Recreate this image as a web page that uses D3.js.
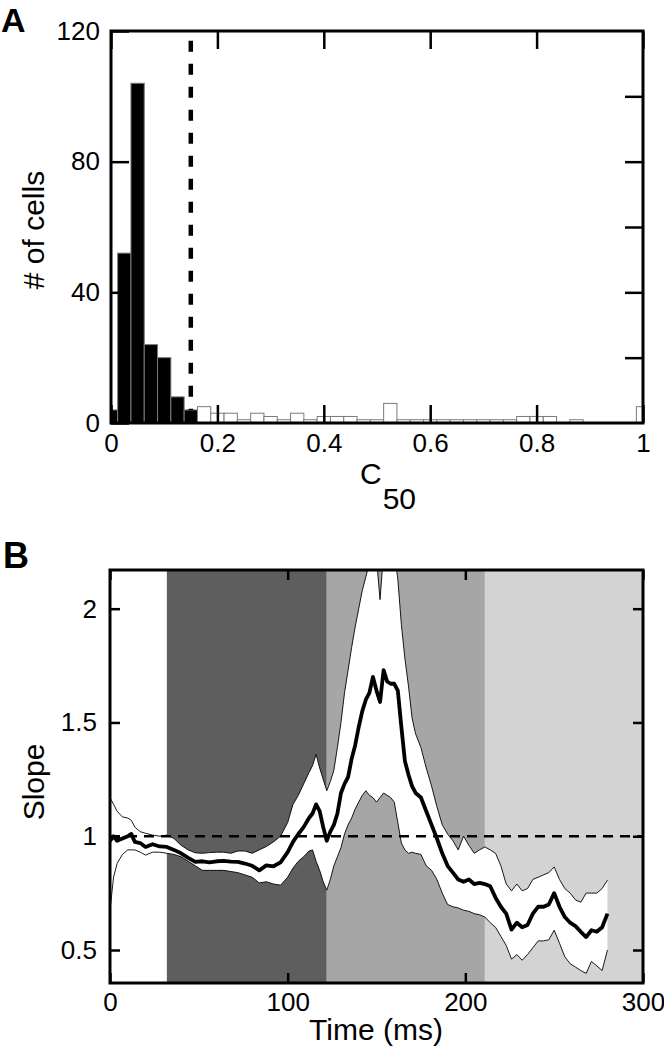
<!DOCTYPE html>
<html>
<head>
<meta charset="utf-8">
<script src="https://cdn.jsdelivr.net/npm/d3@7"></script>
<style>
  body { margin: 0; background: #fff; }
  svg { display: block; font-family: "Liberation Sans", Arial, sans-serif; }
</style>
</head>
<body>
<script>
// ---- panel A data: C50 histogram ----
var binCenters = [0, 0.025, 0.05, 0.075, 0.1, 0.125, 0.15, 0.175, 0.2, 0.225,
  0.25, 0.275, 0.3, 0.325, 0.35, 0.375, 0.4, 0.425, 0.45, 0.475,
  0.5, 0.525, 0.55, 0.575, 0.6, 0.625, 0.65, 0.675, 0.7, 0.725,
  0.75, 0.775, 0.8, 0.825, 0.85, 0.875, 0.9, 0.925, 0.95, 0.975, 1];
var cellCounts = [4, 52, 104, 24, 20, 8, 4, 5, 3, 3,
  1, 3, 2, 1, 3, 1, 2, 2, 2, 1,
  1, 6, 1, 1, 1, 1, 1, 1, 1, 1,
  1, 2, 2, 2, 0, 1, 0, 0, 0, 0, 5];
var binWidth = 0.025;
var c50Cutoff = 0.15;
var xTicksA = [0, 0.2, 0.4, 0.6, 0.8, 1];
var yTicksA = [0, 40, 80, 120];
var yTicksARight = [20, 40, 60, 80, 100];

// ---- panel B data: slope over time ----
var times = [0, 2, 4, 7, 10, 12, 14, 17, 20, 24, 28, 32, 36, 40, 44, 48, 52, 56, 60, 64,
  68, 72, 76, 80, 84, 88, 92, 96, 100, 103, 106, 109, 112, 114, 116, 118, 120, 122, 124, 126,
  128, 130, 132, 134, 136, 138, 140, 142, 144, 146, 148, 150, 152, 154, 156, 158, 160, 162, 164, 166,
  168, 170, 172, 175, 178, 181, 184, 187, 190, 193, 196, 199, 202, 205, 208, 211, 214, 217, 220, 223,
  226, 229, 232, 235, 238, 241, 244, 247, 250, 253, 256, 259, 262, 265, 268, 271, 274, 277, 280];
var meanSlope = [0.98, 1.0, 0.98, 0.99, 1.0, 1.01, 0.975, 0.97, 0.953, 0.965, 0.955, 0.953, 0.94, 0.925, 0.905, 0.887, 0.89, 0.885, 0.89, 0.892,
  0.888, 0.887, 0.88, 0.87, 0.85, 0.872, 0.868, 0.885, 0.93, 0.975, 1.01, 1.04, 1.08, 1.10, 1.14, 1.11, 1.04, 0.98, 1.02, 1.05,
  1.10, 1.19, 1.23, 1.26, 1.34, 1.40, 1.48, 1.55, 1.60, 1.63, 1.70, 1.64, 1.59, 1.73, 1.68, 1.67, 1.67, 1.64, 1.48, 1.33,
  1.27, 1.22, 1.19, 1.17, 1.11, 1.05, 0.99, 0.925, 0.87, 0.84, 0.81, 0.80, 0.81, 0.79, 0.795, 0.79, 0.78, 0.73, 0.69, 0.66,
  0.59, 0.62, 0.60, 0.61, 0.66, 0.69, 0.69, 0.70, 0.75, 0.69, 0.645, 0.62, 0.605, 0.58, 0.557, 0.587, 0.58, 0.60, 0.66];
var upperCI = [1.17, 1.14, 1.11, 1.085, 1.08, 1.07, 1.04, 1.02, 1.013, 1.005, 1.0, 1.005, 0.99, 0.96, 0.94, 0.927, 0.925, 0.928, 0.93, 0.93,
  0.925, 0.935, 0.935, 0.925, 0.94, 0.955, 0.975, 1.0, 1.06, 1.14, 1.18, 1.23, 1.28, 1.31, 1.36, 1.30, 1.25, 1.20, 1.24, 1.29,
  1.39, 1.50, 1.63, 1.73, 1.83, 1.92, 2.0, 2.08, 2.14, 2.20, 2.25, 2.22, 2.04, 2.25, 2.25, 2.2, 2.25, 2.13, 1.93, 1.78,
  1.66, 1.52, 1.45, 1.39, 1.30, 1.22, 1.13, 1.05, 1.01, 0.98, 0.94, 1.0, 0.96, 0.925, 0.94, 0.953, 0.94, 0.925, 0.87, 0.79,
  0.76, 0.79, 0.76, 0.77, 0.81, 0.82, 0.83, 0.84, 0.865, 0.81, 0.77, 0.75, 0.72, 0.71, 0.75, 0.75, 0.75, 0.77, 0.807];
var lowerCI = [0.675, 0.82, 0.88, 0.92, 0.94, 0.94, 0.94, 0.93, 0.917, 0.93, 0.93, 0.925, 0.92, 0.91, 0.89, 0.87, 0.85, 0.85, 0.85, 0.85,
  0.845, 0.84, 0.83, 0.82, 0.795, 0.80, 0.79, 0.785, 0.82, 0.86, 0.89, 0.91, 0.935, 0.94, 0.89, 0.85, 0.80, 0.763, 0.81, 0.87,
  0.91, 0.95, 1.01, 1.05, 1.08, 1.12, 1.15, 1.18, 1.2, 1.18, 1.17, 1.15, 1.17, 1.19, 1.18, 1.17, 1.15, 1.06, 0.97, 0.94,
  0.925, 0.93, 0.925, 0.92, 0.87, 0.85, 0.81, 0.75, 0.70, 0.69, 0.685, 0.675, 0.67, 0.66, 0.655, 0.645, 0.62, 0.60, 0.56, 0.52,
  0.46, 0.48, 0.455, 0.48, 0.51, 0.54, 0.54, 0.545, 0.587, 0.53, 0.47, 0.44, 0.425, 0.41, 0.397, 0.45, 0.43, 0.41, 0.5];
var epochEdges = [0, 32, 122, 211, 300];
var epochColors = ['#ffffff', '#5e5e5e', '#a6a6a6', '#d3d3d3'];
var xTicksB = [0, 100, 200, 300];
var yTicksB = [0.5, 1, 1.5, 2];

var width = 664;
var height = 1060;

var svg = d3.select('body')
            .append('svg')
            .attr('width', width)
            .attr('height', height);

// ================= panel A =================
var boxA = { left: 111, right: 643, top: 31, bottom: 423 };

var xA = d3.scaleLinear().domain([0, 1]).range([boxA.left, boxA.right]);
var yA = d3.scaleLinear().domain([0, 120]).range([boxA.bottom, boxA.top]);

svg.append('clipPath').attr('id', 'clipA')
  .append('rect')
    .attr('x', boxA.left).attr('y', boxA.top)
    .attr('width', boxA.right - boxA.left).attr('height', boxA.bottom - boxA.top);

var gA = svg.append('g').attr('clip-path', 'url(#clipA)');

gA.selectAll('rect.bar')
  .data(binCenters)
  .enter()
  .append('rect')
    .attr('class', 'bar')
    .attr('x', function (d) { return xA(d - binWidth / 2); })
    .attr('width', function (d) { return xA(d + binWidth / 2) - xA(d - binWidth / 2); })
    .attr('y', function (d, i) { return yA(cellCounts[i]); })
    .attr('height', function (d, i) { return yA(0) - yA(cellCounts[i]); })
    .attr('fill', function (d) { return d <= c50Cutoff ? '#000' : '#fff'; })
    .attr('stroke', '#7a7a7a')
    .attr('stroke-width', 1)
    .style('display', function (d, i) { return cellCounts[i] > 0 ? null : 'none'; });

svg.append('line')
  .attr('x1', xA(c50Cutoff)).attr('x2', xA(c50Cutoff))
  .attr('y1', yA(117)).attr('y2', yA(4))
  .attr('stroke', '#000')
  .attr('stroke-width', 4.5)
  .attr('stroke-dasharray', '11,12');

function styleAxis(g, fontSize) {
  g.select('.domain').remove();
  g.selectAll('line').attr('stroke', '#000').attr('stroke-width', 2.5);
  g.selectAll('text')
    .attr('fill', '#000')
    .style('font-size', fontSize + 'px')
    .style('font-family', '"Liberation Sans", Arial, sans-serif');
}

var plainNum = function (d) { return String(d); };

svg.append('g')
  .attr('transform', 'translate(' + boxA.left + ',0)')
  .call(d3.axisLeft(yA).tickValues(yTicksA).tickSize(-18).tickPadding(11).tickFormat(plainNum))
  .call(styleAxis, 26);

svg.append('g')
  .attr('transform', 'translate(' + boxA.right + ',0)')
  .call(d3.axisRight(yA).tickValues(yTicksARight).tickSize(-18).tickFormat(''))
  .call(styleAxis, 26);

svg.append('g')
  .attr('transform', 'translate(0,' + boxA.bottom + ')')
  .call(d3.axisBottom(xA).tickValues(xTicksA).tickSize(-18).tickPadding(11).tickFormat(plainNum))
  .call(styleAxis, 26);

svg.append('g')
  .attr('transform', 'translate(0,' + boxA.top + ')')
  .call(d3.axisTop(xA).tickValues(xTicksA).tickSize(-18).tickFormat(''))
  .call(styleAxis, 26);

svg.append('rect')
  .attr('x', boxA.left).attr('y', boxA.top)
  .attr('width', boxA.right - boxA.left).attr('height', boxA.bottom - boxA.top)
  .attr('fill', 'none').attr('stroke', '#000').attr('stroke-width', 3);

svg.append('text')
  .attr('transform', 'translate(44,230) rotate(-90)')
  .attr('text-anchor', 'middle')
  .style('font-size', '30px')
  .text('# of cells');

var c50 = svg.append('text')
  .attr('x', 360).attr('y', 484)
  .style('font-size', '30px')
  .text('C');
c50.append('tspan').attr('dx', 1).attr('dy', 25).text('50');

svg.append('text')
  .attr('x', 1).attr('y', 32)
  .style('font-size', '34px').style('font-weight', 'bold')
  .text('A');

// ================= panel B =================
var boxB = { left: 110, right: 643, top: 570, bottom: 983 };

var xB = d3.scaleLinear().domain([0, 300]).range([boxB.left, boxB.right]);
var yB = d3.scaleLinear().domain([0.355, 2.17]).range([boxB.bottom, boxB.top]);

svg.append('clipPath').attr('id', 'clipB')
  .append('rect')
    .attr('x', boxB.left).attr('y', boxB.top)
    .attr('width', boxB.right - boxB.left).attr('height', boxB.bottom - boxB.top);

var gB = svg.append('g').attr('clip-path', 'url(#clipB)');

gB.selectAll('rect.epoch')
  .data(epochColors)
  .enter()
  .append('rect')
    .attr('class', 'epoch')
    .attr('x', function (d, i) { return xB(epochEdges[i]); })
    .attr('width', function (d, i) { return xB(epochEdges[i + 1]) - xB(epochEdges[i]); })
    .attr('y', boxB.top)
    .attr('height', boxB.bottom - boxB.top)
    .attr('fill', function (d) { return d; });

var band = d3.area()
  .x(function (d) { return xB(times[d]); })
  .y0(function (d) { return yB(lowerCI[d]); })
  .y1(function (d) { return yB(upperCI[d]); });

var idx = d3.range(times.length);

gB.append('path')
  .attr('d', band(idx))
  .attr('fill', '#fff');

function seriesLine(values) {
  return d3.line()
    .x(function (d) { return xB(times[d]); })
    .y(function (d) { return yB(values[d]); })(idx);
}

[upperCI, lowerCI].forEach(function (vals) {
  gB.append('path')
    .attr('d', seriesLine(vals))
    .attr('fill', 'none')
    .attr('stroke', '#000')
    .attr('stroke-width', 0.9);
});

gB.append('line')
  .attr('x1', xB(0)).attr('x2', xB(300))
  .attr('y1', yB(1)).attr('y2', yB(1))
  .attr('stroke', '#000')
  .attr('stroke-width', 2.5)
  .attr('stroke-dasharray', '10,7');

gB.append('path')
  .attr('d', seriesLine(meanSlope))
  .attr('fill', 'none')
  .attr('stroke', '#000')
  .attr('stroke-width', 3.8)
  .attr('stroke-linejoin', 'round');

svg.append('g')
  .attr('transform', 'translate(' + boxB.left + ',0)')
  .call(d3.axisLeft(yB).tickValues(yTicksB).tickSize(-10).tickPadding(13).tickFormat(plainNum))
  .call(styleAxis, 26);

svg.append('g')
  .attr('transform', 'translate(' + boxB.right + ',0)')
  .call(d3.axisRight(yB).tickValues(yTicksB).tickSize(-10).tickFormat(''))
  .call(styleAxis, 26);

svg.append('g')
  .attr('transform', 'translate(0,' + boxB.bottom + ')')
  .call(d3.axisBottom(xB).tickValues(xTicksB).tickSize(-10).tickPadding(10).tickFormat(plainNum))
  .call(styleAxis, 26);

svg.append('g')
  .attr('transform', 'translate(0,' + boxB.top + ')')
  .call(d3.axisTop(xB).tickValues(xTicksB).tickSize(-10).tickFormat(''))
  .call(styleAxis, 26);

svg.append('rect')
  .attr('x', boxB.left).attr('y', boxB.top)
  .attr('width', boxB.right - boxB.left).attr('height', boxB.bottom - boxB.top)
  .attr('fill', 'none').attr('stroke', '#000').attr('stroke-width', 3);

svg.append('text')
  .attr('transform', 'translate(44,782) rotate(-90)')
  .attr('text-anchor', 'middle')
  .style('font-size', '30px')
  .text('Slope');

svg.append('text')
  .attr('x', 376).attr('y', 1040)
  .attr('text-anchor', 'middle')
  .style('font-size', '30px')
  .text('Time (ms)');

svg.append('text')
  .attr('x', 3).attr('y', 568)
  .style('font-size', '36px').style('font-weight', 'bold')
  .text('B');
</script>
</body>
</html>
